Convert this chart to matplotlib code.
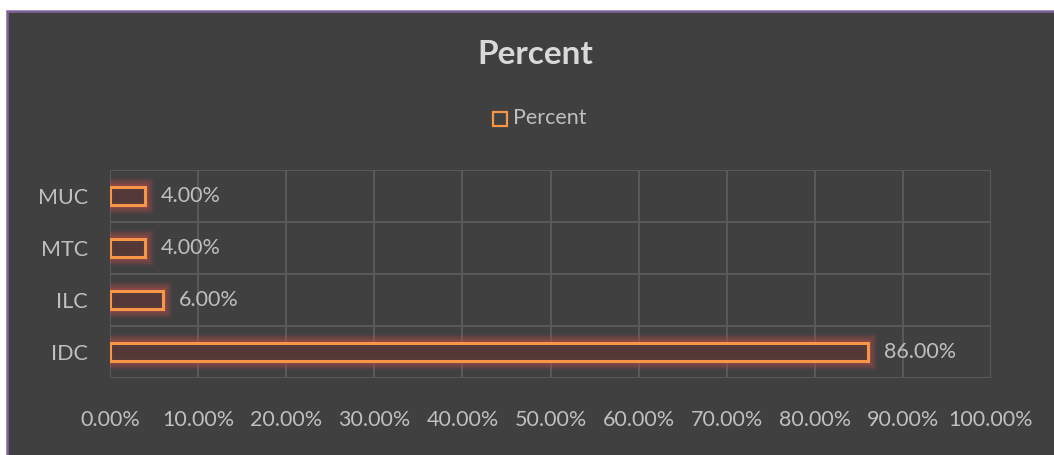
import matplotlib
matplotlib.use("Agg")
import matplotlib.pyplot as plt
from matplotlib.patches import Rectangle
from matplotlib.ticker import FuncFormatter
import matplotlib.patheffects as pe

# data (first category is drawn at the bottom)
categories = ["IDC", "ILC", "MTC", "MUC"]
percent = [86.0, 6.0, 4.0, 4.0]
x_ticks = [0, 10, 20, 30, 40, 50, 60, 70, 80, 90, 100]
series_name = "Percent"
title_text = "Percent"

BG = "#404040"
GRID = "#5A5A5A"
TEXT = "#BFBFBF"
ORANGE = "#F79646"
GLOW = "#C0504D"

plt.rcParams["font.family"] = ["Lato", "DejaVu Sans"]

fig = plt.figure(figsize=(10.54, 4.55), dpi=100)
fig.patch.set_facecolor("white")

# dark chart area with a purple frame on the left and top
W, H = 1054, 455
fig.patches.append(Rectangle((6.5 / W, -0.05), 1.1, (444.5 / H) + 0.05,
                             transform=fig.transFigure, facecolor=BG,
                             edgecolor="#8064A2", linewidth=1.8, zorder=-5))

ax = fig.add_axes([110 / W, 77 / H, 881 / W, 208 / H])
ax.set_facecolor("none")

ys = list(range(len(categories)))
# soft red glow around each bar
glow = [pe.Stroke(linewidth=13, foreground=GLOW, alpha=0.12),
        pe.Stroke(linewidth=10, foreground=GLOW, alpha=0.16),
        pe.Stroke(linewidth=7, foreground=GLOW, alpha=0.20),
        pe.Stroke(linewidth=4.5, foreground=GLOW, alpha=0.25),
        pe.Normal()]
bars = ax.barh(ys, percent, height=0.36, color="#553938",
               edgecolor=ORANGE, linewidth=2.2, zorder=3)
for b in bars:
    b.set_path_effects(glow)

for y, v in zip(ys, percent):
    ax.annotate(f"{v:.2f}%", xy=(v, y), xytext=(16, 0),
                textcoords="offset pixels",
                va="center", ha="left", color=TEXT, fontsize=15.5, zorder=4)

ax.set_xlim(0, 100)
ax.set_ylim(-0.5, len(categories) - 0.5)
ax.set_xticks(x_ticks)
ax.xaxis.set_major_formatter(FuncFormatter(lambda v, _: f"{v:.2f}%"))
ax.set_yticks(ys)
ax.set_yticklabels(categories)

# grid: lines between categories and at every x tick
for yb in [y - 0.5 for y in ys] + [len(categories) - 0.5]:
    ax.axhline(yb, color=GRID, linewidth=1.4, zorder=1)
for xv in x_ticks:
    ax.axvline(xv, color=GRID, linewidth=1.4, zorder=1)

for s in ax.spines.values():
    s.set_visible(False)
ax.tick_params(axis="both", length=0, colors=TEXT, labelsize=15.5)
ax.tick_params(axis="x", pad=23)
ax.tick_params(axis="y", pad=16)

fig.text(535 / W, 1 - 55 / H, title_text, ha="center", va="center",
         fontsize=24, fontweight="bold", color="#D9D9D9")

# legend
fig.patches.append(Rectangle((493 / W, 1 - 126 / H), 14 / W, 14 / H,
                             transform=fig.transFigure, facecolor="none",
                             edgecolor=ORANGE, linewidth=1.6))
fig.text(513 / W, 1 - 118 / H, series_name, ha="left", va="center",
         fontsize=15.5, color=TEXT)

fig.savefig("out.png", dpi=100, facecolor=fig.get_facecolor())
